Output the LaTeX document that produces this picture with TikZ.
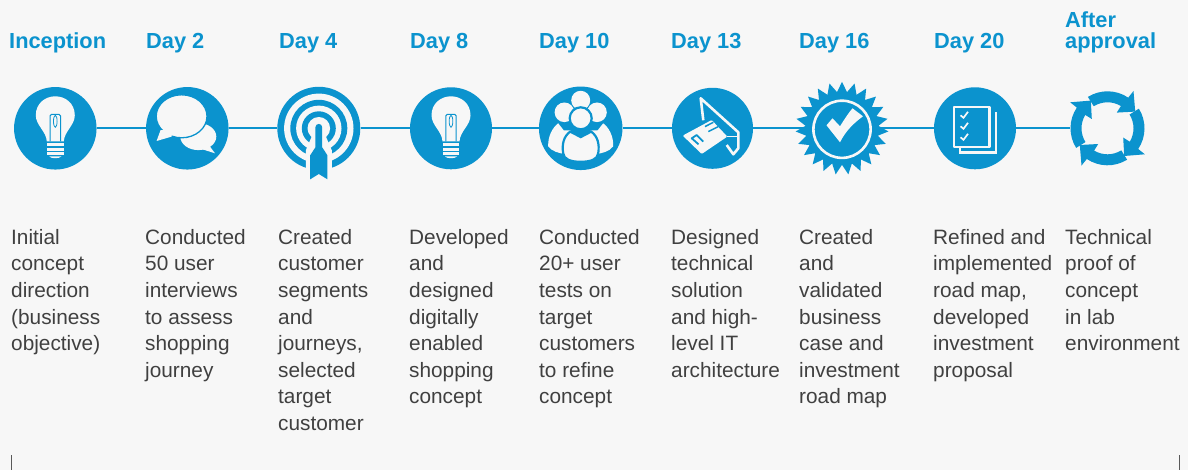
\documentclass[tikz,border=0pt]{standalone}
\usepackage{fontspec}
\setmainfont{Liberation Sans}
\definecolor{brand}{HTML}{0B93CE}
\definecolor{paper}{HTML}{F7F7F7}
\definecolor{ink}{HTML}{404040}
\tikzset{
  stage/.style={circle,fill=brand,inner sep=0pt,minimum size=#1},
  link/.style={draw=brand,line width=2pt},
  head/.style={anchor=north west,inner sep=0pt,align=left,text=brand,font=\fontsize{21.8}{21}\selectfont\bfseries},
  body/.style={anchor=north west,inner sep=0pt,align=left,text=ink,font=\fontsize{20.8}{26.6}\selectfont},
  tick/.style={draw=black!65,line width=0.6pt},
}
\newcommand{\bulbicon}{%
  \fill[paper] (-8.5,13) .. controls (-9,3) and (-19.5,-3) .. (-19.5,-13)
     .. controls (-19.5,-25) and (-10,-32) .. (0,-32)
     .. controls (10,-32) and (19.5,-25) .. (19.5,-13)
     .. controls (19.5,-3) and (9,3) .. (8.5,13) -- cycle;
  \draw[brand,line width=1pt,rounded corners=1.5pt] (-5.2,13) -- (-5.2,-14) -- (5.2,-14) -- (5.2,13);
  \draw[brand,line width=0.8pt] (0,-7) ellipse (1.8 and 6);
  \fill[paper] (-8.3,14.5) rectangle (8.3,18);
  \fill[paper] (-8.3,19.3) rectangle (8.3,22.8);
  \fill[paper] (-8.3,24) rectangle (8.3,27);
  \fill[paper] (-6,28.2) -- (6,28.2) .. controls (4,30.5) and (-4,30.5) .. (-6,28.2) -- cycle;
}
\begin{document}
\begin{tikzpicture}[x=1pt,y=1pt,yscale=-1]
\useasboundingbox (0,0) rectangle (1188,470);
\fill[paper] (0,0) rectangle (1188,470);

% stages
\node[stage=82.5pt] (c1) at (55.3,128.3) {};
\node[stage=82.5pt] (c2) at (187.3,128.3) {};
\node[stage=83pt] (c3) at (318.8,128.3) {};
\node[stage=82pt] (c4) at (451,128.3) {};
\node[stage=83.5pt] (c5) at (580.7,128.3) {};
\node[stage=81pt] (c6) at (712.5,128.3) {};
\node[stage=72pt] (c7) at (842,128.3) {};
\node[stage=82pt] (c8) at (975,128.3) {};
\node[circle,inner sep=0pt,minimum size=75pt] (c9) at (1107.5,128.3) {};

\draw[link] (c1) -- (c2);
\draw[link] (c2) -- (c3);
\draw[link] (c3) -- (c4);
\draw[link] (c4) -- (c5);
\draw[link] (c5) -- (c6);
\draw[link] (c6) -- (c7);
\draw[link] (c7) -- (c8);
\draw[link] (c8) -- (c9);

% bulbs
\begin{scope}[shift={(c1.center)}]\bulbicon\end{scope}
\begin{scope}[shift={(c4.center)}]\bulbicon\end{scope}

% speech bubbles
\begin{scope}[shift={(c2.center)}]
  \fill[paper] (11,8.3) ellipse (18 and 13.5);
  \fill[paper] (21,16) -- (27.7,25) -- (15,21) -- cycle;
  \fill[paper,draw=brand,line width=1.3pt] (-5.7,-12) ellipse (25.4 and 21.5);
  \fill[paper] (-26.7,1.7) -- (-30.7,12.7) -- (-15.7,8.3) -- (-15,2) -- cycle;
\end{scope}

% target
\begin{scope}[shift={(c3.center)}]
  \fill[paper] (0,0) circle (34.7);
  \fill[brand] (0,0) circle (28.5);
  \fill[paper] (0,0) circle (22.7);
  \fill[brand] (0,0) circle (17);
  \fill[paper] (0,0) circle (11.3);
  \fill[paper] (-7,8) -- (-13,22) -- (-13,44) -- (13,44) -- (13,22) -- (7,8) -- cycle;
  \fill[brand] (-3.4,-1) arc[start angle=180,end angle=360,x radius=3.4,y radius=3.4]
     -- (3.4,19) -- (8.6,27) -- (8.6,51) -- (0,45.7) -- (-8.6,51) -- (-8.6,27) -- (-3.4,19) -- cycle;
\end{scope}

% people
\begin{scope}[shift={(c5.center)}]
  \fill[paper] (0,-28) circle (9.5);
  \fill[paper] (-16.3,-16) circle (9.8);
  \fill[paper] (16.3,-16) circle (9.8);
  \fill[paper] (-22.5,-5) -- (-17,2) -- (-10,2) -- (-14,26) .. controls (-22,25) and (-29,23) .. (-32.5,18) .. controls (-33,8) and (-28,-1) .. (-22.5,-5) -- cycle;
  \fill[paper] (22.5,-5) -- (17,2) -- (10,2) -- (14,26) .. controls (22,25) and (29,23) .. (32.5,18) .. controls (33,8) and (28,-1) .. (22.5,-5) -- cycle;
  \fill[paper,draw=brand,line width=2.2pt] (0,-10) circle (11);
  \fill[paper,draw=brand,line width=2.2pt] (-10.5,3.3) -- (0,8.8) -- (10.5,3.3) .. controls (17,8) and (19,16) .. (17.5,25)
     .. controls (17,31) and (10,33.5) .. (0,33.5) .. controls (-10,33.5) and (-17,31) .. (-17.5,25)
     .. controls (-19,16) and (-17,8) .. (-10.5,3.3) -- cycle;
\end{scope}

% card in slot
\begin{scope}[shift={(c6.center)}]
  \draw[paper,line width=2.6pt,line join=round] (-9.2,-8) -- (-11.8,-30) -- (25.8,4) -- (25.8,20) -- (20.8,26) -- (14.2,16.7);
  \draw[paper,line width=1.6pt] (14.8,8.3) -- (25,8.3);
  \fill[paper,rounded corners=1pt] (-29.8,7.3) -- (-0.8,-8.3) -- (14.8,8.3) -- (-10.8,25.7) -- cycle;
  \draw[brand,line width=1.5pt] (-7.5,-1.7) -- (0.8,-6);
  \draw[brand,line width=1.5pt] (-4.2,3.3) -- (5.8,-1.7);
  \draw[brand,line width=1.8pt,line join=round] (-14,16) -- (-20.8,10) -- (-15.8,6.7) -- (-9.2,13.3);
\end{scope}

% seal
\begin{scope}[shift={(c7.center)}]
  \fill[brand] plot[samples=47,domain=0:46,variable=\k] ({-90+\k*7.826087}:{46.5-10*mod(\k,2)}) -- cycle;
  \draw[paper,line width=2.6pt] (0,1) circle (28.6);
  \fill[paper] (-15.5,-3) -- (-9.5,-10) -- (-2,-2) .. controls (3,-10) and (7,-16) .. (10.5,-20) -- (21,-12) .. controls (10,-4) and (3,4) .. (-2,14) -- cycle;
\end{scope}

% checklist
\begin{scope}[shift={(c8.center)}]
  \draw[paper,line width=2.2pt] (21,-16) -- (21,24.3) -- (-15,24.3) -- (-15,19);
  \draw[paper,line width=2.4pt,line join=round] (-21,-21.5) rectangle (14.5,18.5);
  \foreach \yy in {-13,-2,9} {
    \draw[paper,line width=1.7pt] (-14.5,\yy) -- (-11.5,\yy+2.5) -- (-7,\yy-3.5);
  }
\end{scope}

% cycle arrows
\begin{scope}[shift={(c9.center)}]
  \foreach \ang in {0,90,180,270} {
    \begin{scope}[rotate=\ang]
      \fill[brand] (-122:37) arc[start angle=-122,end angle=-56,radius=37]
        -- (26,-37.3) -- (27.7,-16.7) -- (9.3,-15.7) -- (-59:26)
        arc[start angle=-59,end angle=-122,radius=26] -- cycle;
    \end{scope}
  }
\end{scope}

% headings
\node[head] (h1) at (9,32.3) {Inception};
\node[head] (h2) at (146,33) {Day 2};
\node[head] (h3) at (279,33) {Day 4};
\node[head] (h4) at (410,33) {Day 8};
\node[head] (h5) at (539,33) {Day 10};
\node[head] (h6) at (671,33) {Day 13};
\node[head] (h7) at (799,33) {Day 16};
\node[head] (h8) at (934,33) {Day 20};
\node[head] (h9) at (1065,12) {After\\approval};

% descriptions
\node[body] (t1) at (11,229) {Initial\\concept\\direction\\(business\\objective)};
\node[body] (t2) at (145,229) {Conducted\\50 user\\interviews\\to assess\\shopping\\journey};
\node[body] (t3) at (278,229) {Created\\customer\\segments\\and\\journeys,\\selected\\target\\customer};
\node[body] (t4) at (409,229) {Developed\\and\\designed\\digitally\\enabled\\shopping\\concept};
\node[body] (t5) at (539,229) {Conducted\\20+ user\\tests on\\target\\customers\\to refine\\concept};
\node[body] (t6) at (671,229) {Designed\\technical\\solution\\and high-\\level IT\\architecture};
\node[body] (t7) at (799,229) {Created\\and\\validated\\business\\case and\\investment\\road map};
\node[body] (t8) at (933,229) {Refined and\\implemented\\road map,\\developed\\investment\\proposal};
\node[body] (t9) at (1065,229) {Technical\\proof of\\concept\\in lab\\environment};

% bottom ticks
\coordinate (a1) at (11,455);
\coordinate (a2) at (11,470);
\coordinate (b1) at (1179,455);
\coordinate (b2) at (1179,470);
\draw[tick] (a1) -- (a2);
\draw[tick] (b1) -- (b2);
\end{tikzpicture}
\end{document}
